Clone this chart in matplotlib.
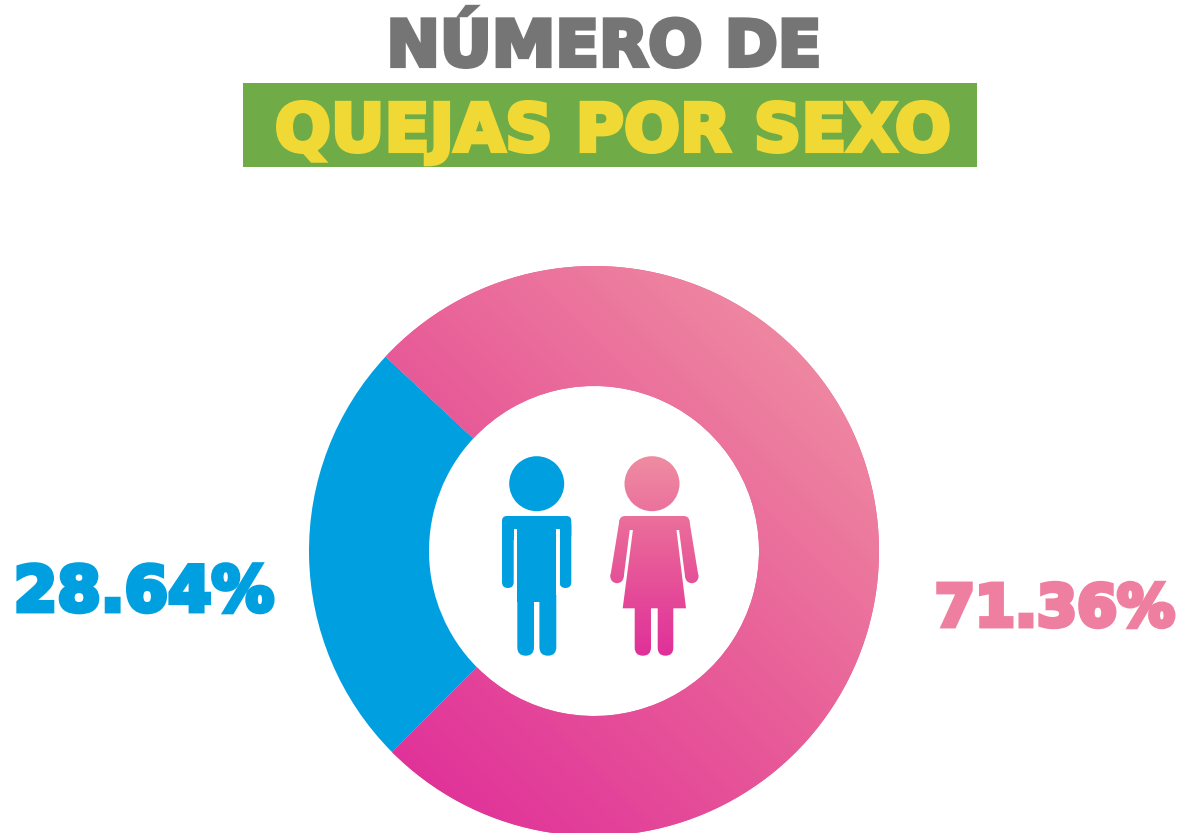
import numpy as np
import matplotlib
matplotlib.use("Agg")
import matplotlib.pyplot as plt
import matplotlib.patheffects as pe
from matplotlib.colors import LinearSegmentedColormap
from matplotlib.patches import Circle, FancyBboxPatch, Polygon, Rectangle

# Printed shares, and the arc sizes as actually drawn in the picture
labels = ["28.64%", "71.36%"]
drawn_shares = [24.4, 75.6]
title_top = "NÚMERO DE"
title_band = "QUEJAS POR SEXO"

W, H = 1180, 833
BLUE = "#009FE0"
PINK_TXT = "#EF7FA0"
GREY = "#757575"
YELLOW = "#F0D935"
GREEN = "#6FAC47"
ramp = LinearSegmentedColormap.from_list("r", ["#E0309A", "#E85C98", "#EF8CA2"])

plt.rcParams["font.family"] = ["DejaVu Sans"]
fig = plt.figure(figsize=(W / 100, H / 100), dpi=100)
ax = fig.add_axes([0, 0, 1, 1])


def Y(py):
    return H - py


# Donut
cx, cy, R, r = 594, Y(551), 285, 165
wedges, _ = ax.pie(drawn_shares, colors=[BLUE, "#E85C98"], startangle=137, counterclock=True,
                   center=(cx, cy), radius=R, frame=True,
                   wedgeprops=dict(width=R - r, linewidth=0))
ax.set_xlim(0, W)
ax.set_ylim(0, H)
ax.set_aspect("equal")
ax.axis("off")

# Diagonal gradient on the pink arc
n = 300
gx, gy = np.meshgrid(np.linspace(0, 1, n), np.linspace(0, 1, n))
im = ax.imshow((gx + gy) / 2, extent=(cx - R, cx + R, cy - R, cy + R), origin="lower",
               cmap=ramp, vmin=0.12, vmax=0.9, zorder=2, interpolation="bilinear")
im.set_clip_path(wedges[1])
ax.set_xlim(0, W)
ax.set_ylim(0, H)


def capsule(x0, x1, ytop, ybot, rad=None):
    rad = (x1 - x0) / 2 if rad is None else rad
    return FancyBboxPatch((x0, Y(ybot)), x1 - x0, ybot - ytop,
                          boxstyle=f"round,pad=0,rounding_size={rad}", linewidth=0)


# Male figure
man = [Circle((536.7, Y(483.7)), 27.5),
       capsule(502, 571.3, 516, 540, 5),
       capsule(502, 513.7, 520, 588),
       capsule(559.6, 571.3, 520, 588),
       Rectangle((517.3, Y(602)), 39, 86),
       capsule(517.3, 534, 585, 655.7),
       capsule(539.4, 556.3, 585, 655.7)]
for p in man:
    p.set(facecolor=BLUE, edgecolor="none", zorder=3)
    ax.add_patch(p)
for x0, x1 in [(513.7, 517.3), (556.3, 559.6)]:
    ax.add_patch(Rectangle((x0, Y(595)), x1 - x0, 66, facecolor="white", edgecolor="none", zorder=4))

# Female figure with a vertical gradient
mx = 654.4
woman = [Circle((652, Y(483.7)), 27.5),
         capsule(619.3, 689.5, 516, 530, 6),
         Polygon([(634.5, Y(518)), (675, Y(518)), (686, Y(608.3)), (622.7, Y(608.3))]),
         Polygon([(619.5, Y(520)), (631, Y(520)), (623.7, Y(577)), (610.4, Y(576))]),
         Polygon([(2 * mx - 619.5, Y(520)), (2 * mx - 631, Y(520)), (2 * mx - 623.7, Y(577)), (2 * mx - 610.4, Y(576))]),
         Circle((617, Y(576.5)), 6.7),
         Circle((2 * mx - 617, Y(576.5)), 6.7),
         capsule(634.7, 651, 600, 655.7),
         capsule(657.7, 673.3, 600, 655.7)]
vg = np.linspace(0, 1, 200).reshape(-1, 1)
for p in woman:
    p.set(facecolor="none", edgecolor="none")
    ax.add_patch(p)
    g = ax.imshow(vg, extent=(605, 705, Y(656), Y(456)), origin="lower", cmap=ramp,
                  vmin=0, vmax=1, zorder=3, aspect="auto", interpolation="bilinear")
    g.set_clip_path(p)
ax.set_xlim(0, W)
ax.set_ylim(0, H)
ax.set_aspect("equal")

# Title
ax.add_patch(Rectangle((243, Y(167)), 734, 84, facecolor=GREEN, edgecolor="none", zorder=1))


def heavy(x, py, s, color, size, stroke):
    ax.text(x, Y(py), s, color=color, fontsize=size, fontweight="bold", ha="center", va="baseline",
            zorder=5, path_effects=[pe.withStroke(linewidth=stroke, foreground=color, joinstyle="miter")])


heavy(604, 66, title_top, GREY, 46, 3)
heavy(613, 151, title_band, YELLOW, 47.5, 3)
heavy(144, 611, labels[0], BLUE, 45, 3.5)
heavy(1055, 626, labels[1], PINK_TXT, 41.5, 3.5)

fig.savefig("out.png", dpi=100, facecolor="white")
